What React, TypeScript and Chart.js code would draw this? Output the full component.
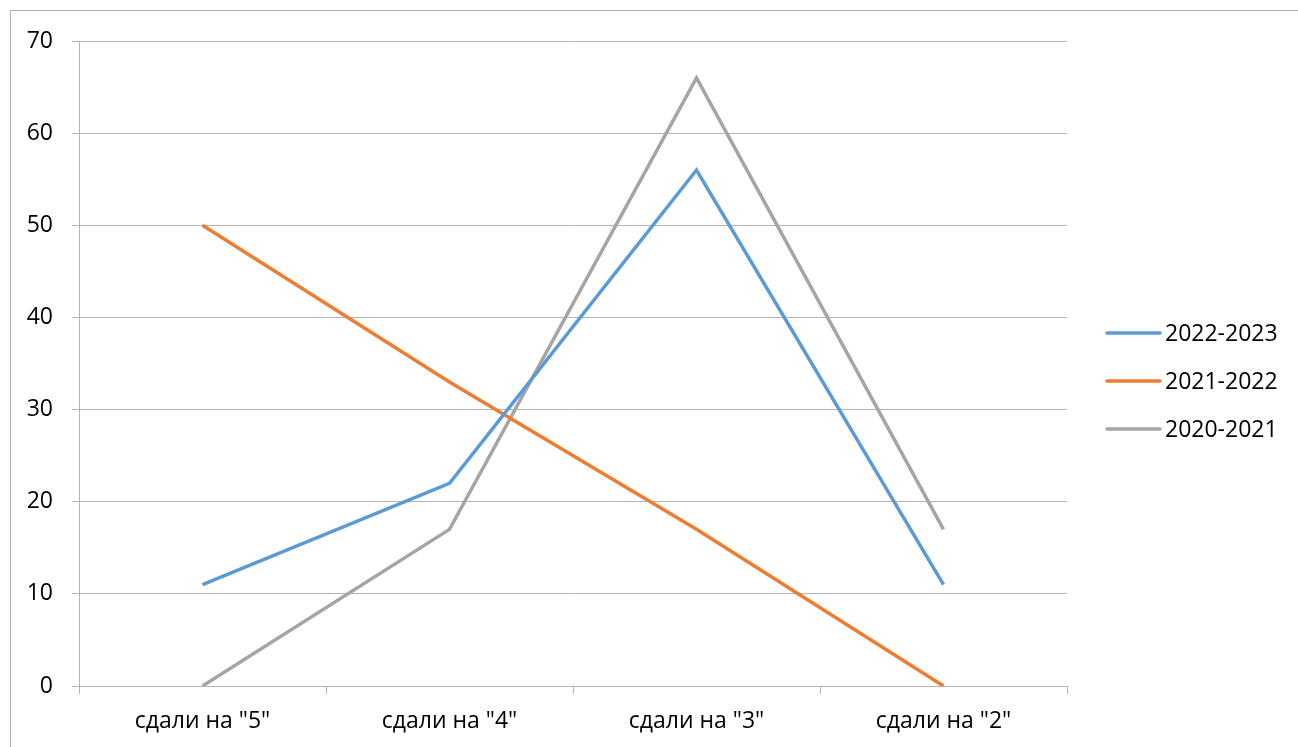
import React, { useEffect, useRef } from "react";
import { Chart, registerables } from "chart.js";

Chart.register(...registerables);

const categories = ['сдали на "5"', 'сдали на "4"', 'сдали на "3"', 'сдали на "2"'];
const seriesNames = ["2022-2023", "2021-2022", "2020-2021"];
const series2022 = [11, 22, 56, 11];
const series2021 = [50, 33, 17, 0];
const series2020 = [0, 17, 66, 17];
const seriesColors = ["#5B9BD5", "#ED7D31", "#A5A5A5"];
const yMin = 0;
const yMax = 70;
const yStep = 10;

const FONT = "'Open Sans', 'Liberation Sans', sans-serif";
const GRID = "#b4b4b4";
const TEXT = "#000";

const legendPlugin = {
  id: "excelLegend",
  afterDraw(chart: any) {
    const ctx = chart.ctx;
    const ds = chart.data.datasets;
    const x0 = chart.chartArea.right + 40;
    const lineLen = 53;
    const gap = 48;
    const cy = 381;
    ctx.save();
    ctx.font = `23px ${FONT}`;
    ctx.textBaseline = "middle";
    ctx.textAlign = "left";
    ds.forEach((d: any, i: number) => {
      const y = cy + (i - (ds.length - 1) / 2) * gap;
      ctx.strokeStyle = d.borderColor;
      ctx.lineWidth = 3.5;
      ctx.lineCap = "round";
      ctx.beginPath();
      ctx.moveTo(x0, y);
      ctx.lineTo(x0 + lineLen, y);
      ctx.stroke();
      ctx.fillStyle = TEXT;
      ctx.fillText(d.label, x0 + lineLen + 5, y + 1);
    });
    ctx.restore();
  },
};

export default function App() {
  const ref = useRef<HTMLCanvasElement | null>(null);
  useEffect(() => {
    if (!ref.current) return;
    const values = [series2022, series2021, series2020];
    const chart = new Chart(ref.current, {
      type: "line",
      data: {
        labels: categories,
        datasets: seriesNames.map((name, i) => ({
          label: name,
          data: values[i],
          borderColor: seriesColors[i],
          backgroundColor: seriesColors[i],
          borderWidth: 3.5,
          pointRadius: 0,
          pointHoverRadius: 0,
          tension: 0,
          fill: false,
        })),
      },
      options: {
        animation: false,
        responsive: true,
        maintainAspectRatio: false,
        layout: { padding: { left: 0, right: 231, top: 41, bottom: 0 } },
        plugins: {
          legend: { display: false },
          tooltip: { enabled: false },
        },
        scales: {
          x: {
            offset: true,
            grid: {
              offset: true,
              drawOnChartArea: false,
              drawTicks: true,
              tickLength: 8,
              color: GRID,
              lineWidth: 1,
            },
            border: { display: true, color: GRID, width: 1 },
            ticks: {
              color: TEXT,
              font: { family: FONT, size: 23 },
              padding: 14,
              maxRotation: 0,
            },
            afterFit: (scale: any) => {
              scale.height = 61;
            },
          },
          y: {
            min: yMin,
            max: yMax,
            grid: {
              drawOnChartArea: true,
              drawTicks: true,
              tickLength: 7,
              color: GRID,
              lineWidth: 1,
            },
            border: { display: true, color: GRID, width: 1 },
            ticks: {
              stepSize: yStep,
              color: TEXT,
              font: { family: FONT, size: 23 },
              padding: 19,
            },
            afterFit: (scale: any) => {
              scale.width = 79;
            },
          },
        },
      },
      plugins: [legendPlugin],
    });
    return () => chart.destroy();
  }, []);

  return (
    <div style={{ position: "absolute", left: 0, top: 0, width: 1298, height: 747, overflow: "hidden", background: "#fff" }}>
      <div
        style={{
          position: "absolute",
          left: 10,
          top: 10,
          width: 1288,
          height: 737,
          boxSizing: "border-box",
          borderLeft: "1px solid #b0b0b0",
          borderTop: "1px solid #b0b0b0",
        }}
      />
      <div style={{ position: "absolute", left: 0, top: 0, width: 1298, height: 747 }}>
        <canvas ref={ref} />
      </div>
    </div>
  );
}
